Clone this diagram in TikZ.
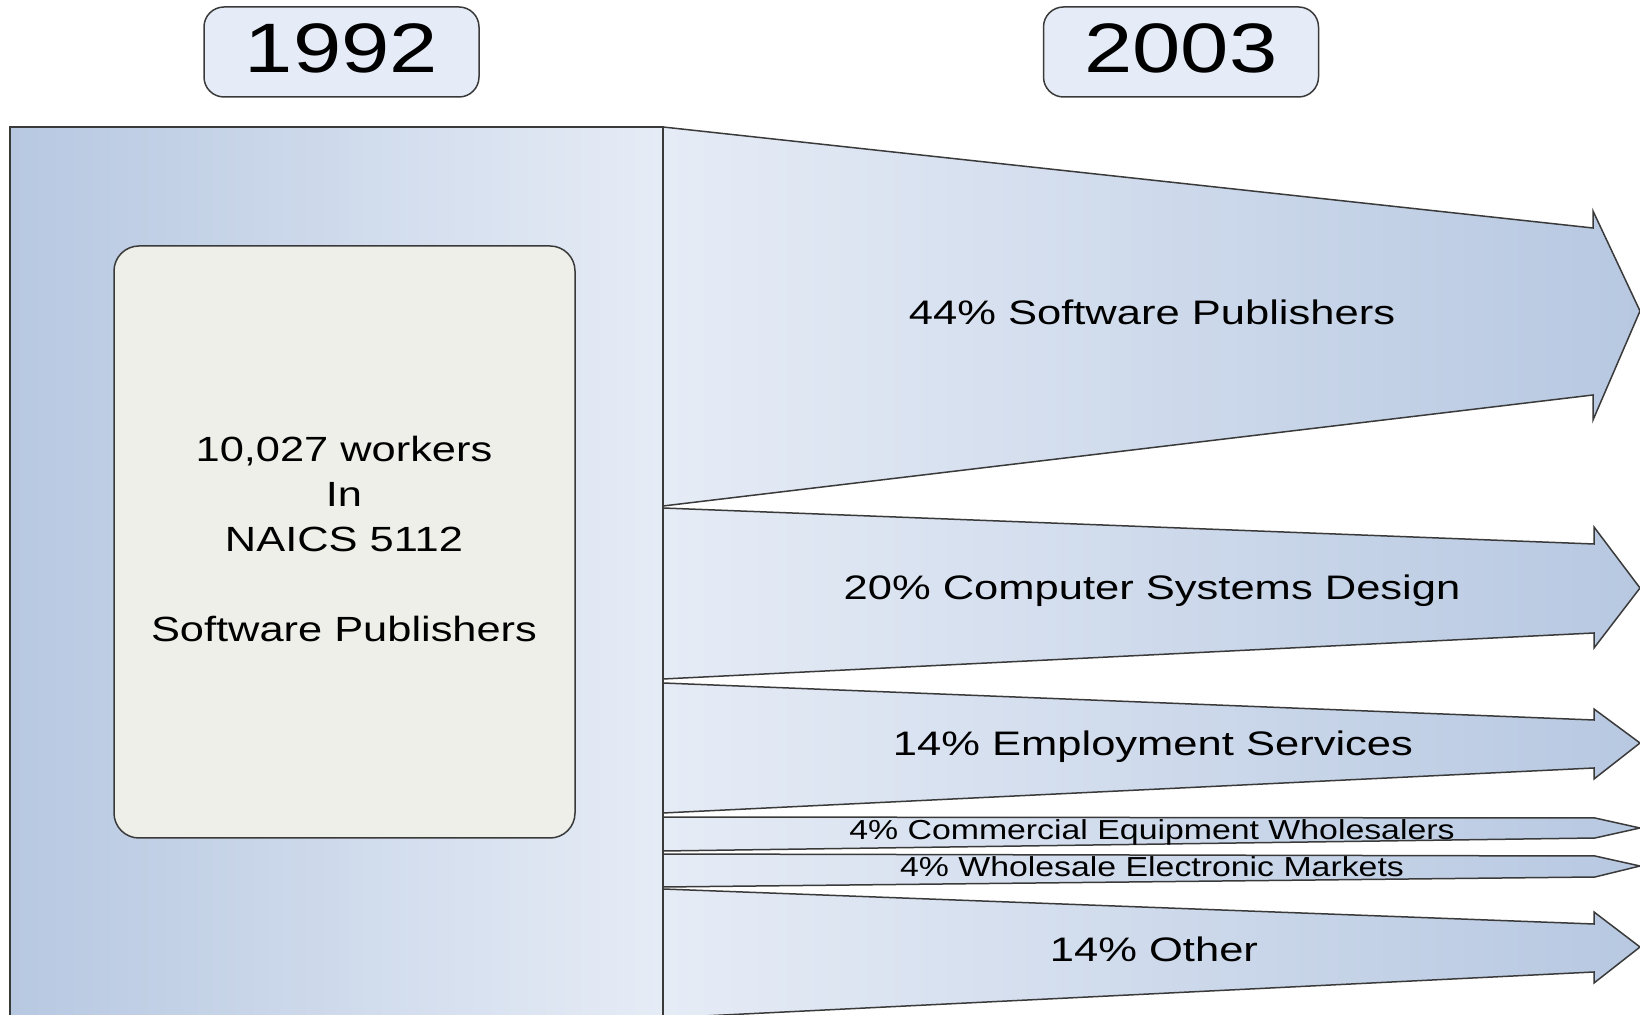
\documentclass[tikz,border=0pt]{standalone}
\usepackage{fontspec}
\setmainfont{Liberation Sans}
\definecolor{edge}{HTML}{3A3A3A}
\definecolor{blueD}{HTML}{B7C8E1}
\definecolor{blueL}{HTML}{E6ECF6}
\definecolor{innerfill}{HTML}{EEEFE8}
\definecolor{yearfill}{HTML}{E6ECF7}
\newcommand\hstretch[2]{\scalebox{#1}[1]{#2}}
\begin{document}
\begin{tikzpicture}[x=0.5pt,y=-0.5pt,
  outline/.style={draw=edge, line width=0.75pt, line join=miter},
  flowarrow/.style={outline, left color=blueL, right color=blueD},
  yearbox/.style={outline, fill=yearfill, rounded corners=10pt, minimum width=137.5pt,
    inner sep=0pt, text height=33pt, text depth=12pt, font=\fontsize{35}{40}\selectfont},
  biglabel/.style={anchor=base, inner sep=0pt, font=\fontsize{17}{20}\selectfont},
  innerlabel/.style={anchor=base, inner sep=0pt, font=\fontsize{17.5}{20}\selectfont},
  smalllabel/.style={anchor=base, inner sep=0pt, font=\fontsize{13.75}{16}\selectfont}]
\useasboundingbox (0,0) rectangle (1640,1015);
\clip (0,0) rectangle (1640,1015);

% year labels
\node[yearbox] (y1992) at (341.5,52) {\hstretch{1.24}{1992}};
\node[yearbox] (y2003) at (1181,52) {\hstretch{1.24}{2003}};

% left block
\draw[outline, left color=blueD, right color=blueL] (10,127) rectangle (663,1040);
\node[outline, fill=innerfill, rounded corners=12.5pt, minimum width=230.5pt,
  minimum height=296pt, inner sep=0pt] (inner) at (344.5,542) {};
\node[innerlabel] (l1) at (344,462) {\hstretch{1.24}{10,027 workers}};
\node[innerlabel] (l2) at (344,507) {\hstretch{1.24}{In}};
\node[innerlabel] (l3) at (344,552) {\hstretch{1.24}{NAICS 5112}};
\node[innerlabel] (l4) at (344,642) {\hstretch{1.24}{Software Publishers}};

% arrows
\draw[flowarrow] (663,127) -- (1593,228) -- (1593,211) -- (1640,311) -- (1593,420) -- (1593,395) -- (663,506) -- cycle;
\draw[flowarrow] (663,508) -- (1594,544) -- (1594,527) -- (1640,588) -- (1594,648) -- (1594,633) -- (663,679) -- cycle;
\draw[flowarrow] (663,683) -- (1594,720) -- (1594,709) -- (1640,743) -- (1594,779) -- (1594,768) -- (663,813) -- cycle;
\draw[flowarrow] (663,817) -- (1595,818) -- (1640,828) -- (1595,838) -- (663,851) -- cycle;
\draw[flowarrow] (663,854) -- (1595,856) -- (1640,866) -- (1595,877) -- (663,887) -- cycle;
\draw[flowarrow] (663,889) -- (1594,924) -- (1594,912) -- (1640,947) -- (1594,983) -- (1594,972) -- (663,1018) -- cycle;

% arrow labels
\node[biglabel] (t1) at (1152,325) {\hstretch{1.28}{44\% Software Publishers}};
\node[biglabel] (t2) at (1152,600) {\hstretch{1.28}{20\% Computer Systems Design}};
\node[biglabel] (t3) at (1153,756) {\hstretch{1.28}{14\% Employment Services}};
\node[smalllabel] (t4) at (1152,840) {\hstretch{1.23}{4\% Commercial Equipment Wholesalers}};
\node[smalllabel] (t5) at (1152,877) {\hstretch{1.23}{4\% Wholesale Electronic Markets}};
\node[biglabel] (t6) at (1154,961) {\hstretch{1.28}{14\% Other}};
\end{tikzpicture}
\end{document}
